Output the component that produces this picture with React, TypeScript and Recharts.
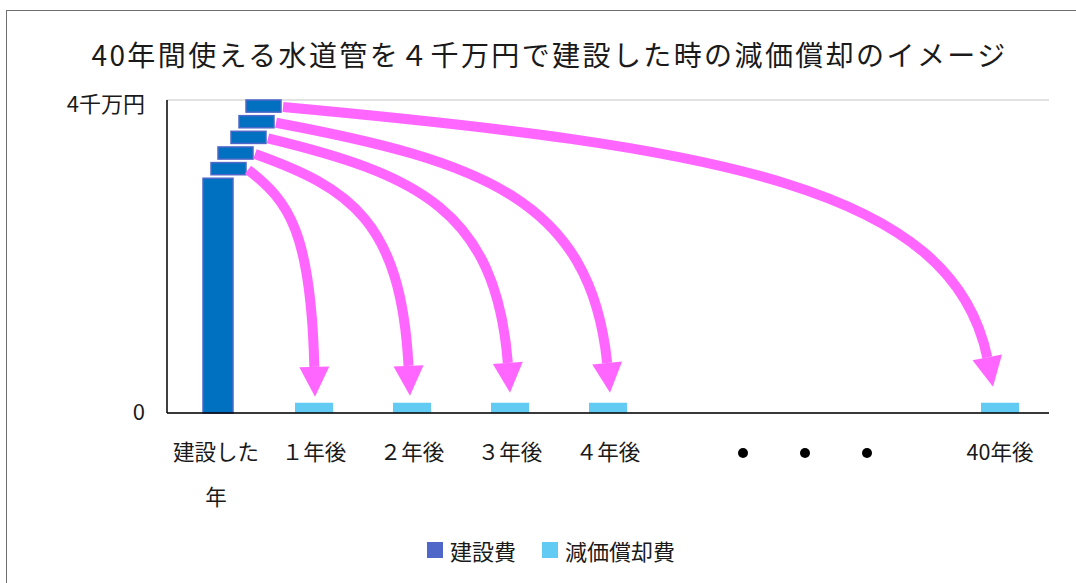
import React from "react";
import { BarChart, Bar, XAxis, YAxis, CartesianGrid, Legend } from "recharts";

// categories along the x axis
const categories = [
  "建設した年",
  "１年後",
  "２年後",
  "３年後",
  "４年後",
  "",
  "●　　●　　●",
  " ",
  "40年後",
];
// 建設費 (万円)
const constructionCost = [3000, null, null, null, null, null, null, null, null];
// 減価償却費 (万円)
const depreciationCost = [null, 130, 130, 130, 130, null, null, null, 130];
const yTicks = [0, 4000];
const yTickLabels = ["0", "4千万円"];

// the 5 pieces stacked above the construction bar (top value of each, 万円)
const blockLevels = [3200, 3400, 3600, 3800, 4000];
const blockSize = 155;
// category each piece flies to
const arrowTargets = [1, 2, 3, 4, 8];

const data = categories.map((name, i) => ({
  name,
  construction: constructionCost[i],
  depreciation: depreciationCost[i],
}));

const FONT = "'Noto Sans CJK JP', 'Noto Sans', sans-serif";
const W = 1076;
const H = 583;
const MARGIN = { top: 100, right: 27, left: 87, bottom: 18 };
const Y_W = 80;
const BAND = (W - MARGIN.left - MARGIN.right - Y_W) / categories.length;

// decoration tweaks for the staircase + arrows
const blockShift = [8, 15, 28, 36, 43];
const BLOCK_W = 35;
const tipGap = [6, 7, 10, 10, 16];
const tipDx = [1, -2, 0, 2, -7];
const HEAD = 30;
const PINK = "#FF66FF";

const ConstructionShape = (props: any) => {
  const { x, y, width, height, payload } = props;
  if (!payload || !payload.construction || !height) return null;
  const base = y + height;
  const k = height / payload.construction;
  const left = x + 6;
  const cx = x + width / 2;

  const blocks = blockLevels.map((lv, i) => {
    const top = base - lv * k;
    const h = blockSize * k;
    return { x: left + blockShift[i], y: top, h };
  });

  const arrows = arrowTargets.map((idx, i) => {
    const b = blocks[i];
    const sx = b.x + BLOCK_W + 2;
    const sy = b.y + b.h / 2 + 1;
    const barTop = base - (depreciationCost[idx] || 0) * k;
    const tx = cx + idx * BAND + tipDx[i];
    const ty = barTop - tipGap[i];
    let dx = tx - sx;
    let dy = ty - sy;
    let ux = 0.05 * dx;
    let uy = 0.65 * dy;
    const len = Math.hypot(ux, uy);
    ux /= len;
    uy /= len;
    const ex = tx - ux * HEAD;
    const ey = ty - uy * HEAD;
    dx = ex - sx;
    dy = ey - sy;
    const c1x = sx + 0.62 * dx;
    const c1y = sy + 0.16 * dy;
    const c2x = ex - 0.05 * dx;
    const c2y = ey - 0.68 * dy;
    const px = -uy * 15;
    const py = ux * 15;
    return {
      d: `M${sx},${sy} C${c1x},${c1y} ${c2x},${c2y} ${ex},${ey}`,
      head: `${tx},${ty} ${ex + px},${ey + py} ${ex - px},${ey - py}`,
    };
  });

  return (
    <g>
      <rect x={left} y={y} width={width - 8} height={height} fill="#0070C0" stroke="#4E67C8" strokeWidth={1.5} />
      {blocks.map((b, i) => (
        <rect key={i} x={b.x} y={b.y} width={BLOCK_W} height={b.h} fill="#0070C0" stroke="#4E67C8" strokeWidth={1.5} />
      ))}
      {arrows.map((a, i) => (
        <g key={i}>
          <path d={a.d} fill="none" stroke={PINK} strokeWidth={10} />
          <polygon points={a.head} fill={PINK} />
        </g>
      ))}
    </g>
  );
};

const XTick = (props: any) => {
  const { x, y, payload } = props;
  const label: string = payload.value;
  if (label.includes("●")) {
    return (
      <g>
        {[-62, 0, 62].map((off) => (
          <circle key={off} cx={x + off + 1} cy={y + 40} r={5} fill="#000" />
        ))}
      </g>
    );
  }
  if (label === "建設した年") {
    return (
      <text x={x} y={y} textAnchor="middle" fontSize={21.5} fill="#1a1a1a">
        <tspan x={x} dy={47}>建設した</tspan>
        <tspan x={x} dy={45}>年</tspan>
      </text>
    );
  }
  return (
    <text x={x} y={y + 47} textAnchor="middle" fontSize={21.5} fill="#1a1a1a">
      {label}
    </text>
  );
};

const YTick = (props: any) => {
  const { x, y, payload } = props;
  const i = yTicks.indexOf(payload.value);
  return (
    <text x={x} y={y + (i === yTicks.length - 1 ? 12 : 7)} textAnchor="end" fontSize={22} fill="#1a1a1a">
      {yTickLabels[i]}
    </text>
  );
};

const LegendContent = (props: any) => (
  <div style={{ display: "flex", alignItems: "center", height: 30, fontSize: 22, color: "#1a1a1a" }}>
    {(props.payload || []).map((p: any, i: number) => (
      <div key={i} style={{ display: "flex", alignItems: "center", marginRight: 26 }}>
        <span style={{ display: "inline-block", width: 16, height: 16, background: p.color, marginRight: 7 }} />
        <span>{p.value}</span>
      </div>
    ))}
  </div>
);

export default function App() {
  return (
    <div
      style={{
        position: "absolute",
        left: 0,
        top: 0,
        width: W,
        height: H,
        overflow: "hidden",
        background: "#fff",
        fontFamily: FONT,
      }}
    >
      <div
        style={{
          position: "absolute",
          left: 6,
          top: 10,
          width: 1200,
          height: 700,
          borderTop: "1.5px solid #6f6f6f",
          borderLeft: "1.5px solid #6f6f6f",
        }}
      />
      <div
        style={{
          position: "absolute",
          left: 0,
          top: 40,
          width: 1099,
          textAlign: "center",
          fontSize: 28,
          lineHeight: "28px",
          letterSpacing: 2.4,
          color: "#1a1a1a",
        }}
      >
        40年間使える水道管を４千万円で建設した時の減価償却のイメージ
      </div>
      <div style={{ position: "absolute", left: 0, top: 0 }}>
        <BarChart width={W} height={H} data={data} margin={MARGIN} barSize={38}>
          <CartesianGrid vertical={false} stroke="#D9D9D9" strokeWidth={1.5} />
          <XAxis
            dataKey="name"
            interval={0}
            tickLine={false}
            tickSize={0}
            tickMargin={0}
            height={122}
            axisLine={{ stroke: "#000", strokeWidth: 1.5 }}
            tick={<XTick />}
          />
          <YAxis
            width={Y_W}
            domain={[0, 4000]}
            ticks={yTicks}
            tickLine={false}
            tickSize={0}
            tickMargin={22}
            axisLine={{ stroke: "#000", strokeWidth: 1.5 }}
            tick={<YTick />}
          />
          <Legend
            verticalAlign="bottom"
            content={<LegendContent />}
            wrapperStyle={{ left: 427, bottom: 18, width: 320, height: 30 }}
          />
          <Bar
            dataKey="construction"
            name="建設費"
            stackId="a"
            fill="#4E67C8"
            shape={<ConstructionShape />}
            isAnimationActive={false}
          />
          <Bar
            dataKey="depreciation"
            name="減価償却費"
            stackId="a"
            fill="#61CBF3"
            isAnimationActive={false}
          />
        </BarChart>
      </div>
    </div>
  );
}
